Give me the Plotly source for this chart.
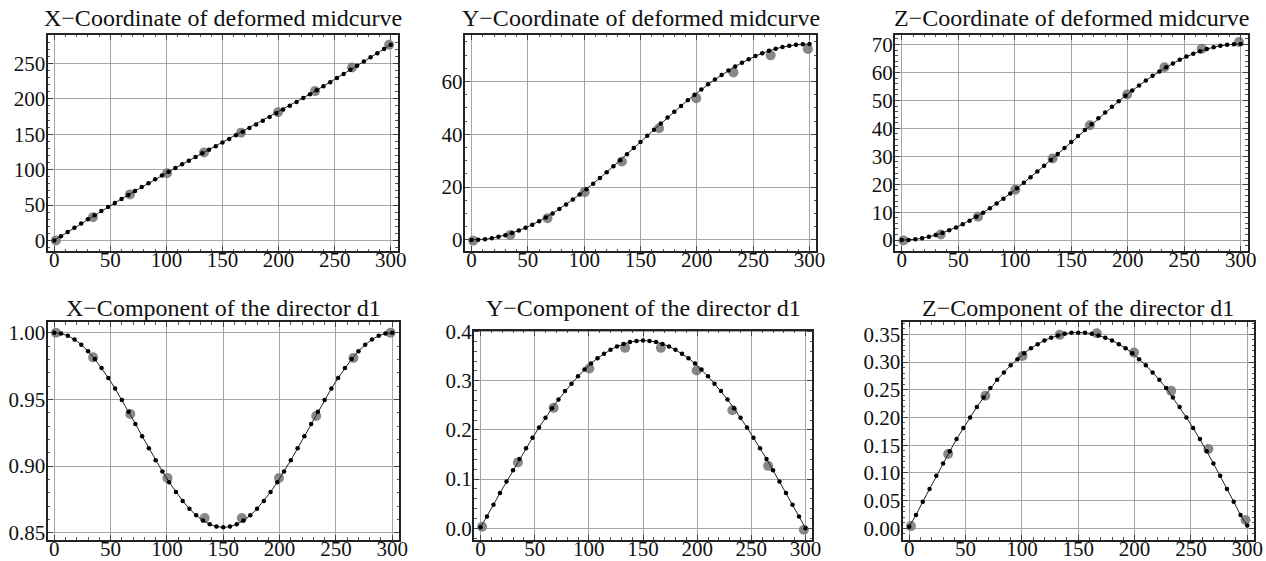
import plotly.graph_objects as go

# ---------------- data ----------------
s = [0, 6, 12, 18, 24, 30, 36, 42, 48, 54, 60, 66, 72, 78, 84, 90, 96, 102, 108, 114,
     120, 126, 132, 138, 144, 150, 156, 162, 168, 174, 180, 186, 192, 198, 204, 210,
     216, 222, 228, 234, 240, 246, 252, 258, 264, 270, 276, 282, 288, 294, 300]

x_coord = [0.00, 5.97, 11.93, 17.88, 23.81, 29.72, 35.59, 41.42, 47.21, 52.95, 58.65,
           64.29, 69.88, 75.41, 80.89, 86.31, 91.68, 97.00, 102.27, 107.50, 112.70,
           117.86, 122.99, 128.11, 133.21, 138.30, 143.39, 148.49, 153.61, 158.74,
           163.90, 169.10, 174.33, 179.60, 184.92, 190.29, 195.71, 201.19, 206.72,
           212.31, 217.95, 223.65, 229.39, 235.18, 241.01, 246.88, 252.79, 258.72,
           264.67, 270.63, 276.60]

y_coord = [0.00, 0.07, 0.29, 0.66, 1.16, 1.81, 2.60, 3.53, 4.59, 5.78, 7.09, 8.51,
           10.05, 11.71, 13.45, 15.29, 17.22, 19.23, 21.30, 23.44, 25.64, 27.87,
           30.15, 32.45, 34.77, 37.10, 39.43, 41.75, 44.05, 46.33, 48.56, 50.76,
           52.90, 54.97, 56.98, 58.91, 60.75, 62.49, 64.15, 65.69, 67.11, 68.42,
           69.61, 70.67, 71.60, 72.39, 73.04, 73.54, 73.91, 74.13, 74.20]

z_coord = [0.00, 0.07, 0.29, 0.65, 1.16, 1.80, 2.58, 3.49, 4.53, 5.69, 6.97, 8.35,
           9.83, 11.41, 13.08, 14.83, 16.65, 18.54, 20.49, 22.48, 24.52, 26.60,
           28.70, 30.82, 32.96, 35.11, 37.25, 39.39, 41.51, 43.62, 45.69, 47.73,
           49.72, 51.67, 53.56, 55.38, 57.13, 58.80, 60.38, 61.86, 63.25, 64.52,
           65.68, 66.72, 67.63, 68.41, 69.05, 69.56, 69.92, 70.14, 70.21]

d1_x = [1.0000, 0.9994, 0.9977, 0.9949, 0.9910, 0.9861, 0.9802, 0.9735, 0.9661, 0.9581,
        0.9496, 0.9407, 0.9316, 0.9224, 0.9133, 0.9044, 0.8959, 0.8879, 0.8805, 0.8738,
        0.8679, 0.8630, 0.8591, 0.8563, 0.8546, 0.8540, 0.8546, 0.8563, 0.8591, 0.8630,
        0.8679, 0.8738, 0.8805, 0.8879, 0.8959, 0.9044, 0.9133, 0.9224, 0.9316, 0.9407,
        0.9496, 0.9581, 0.9661, 0.9735, 0.9802, 0.9861, 0.9910, 0.9949, 0.9977, 0.9994,
        1.0000]

d1_y = [0.002, 0.024, 0.048, 0.072, 0.095, 0.118, 0.141, 0.163, 0.184, 0.205, 0.225,
        0.244, 0.262, 0.279, 0.294, 0.309, 0.323, 0.335, 0.346, 0.355, 0.363, 0.370,
        0.375, 0.379, 0.381, 0.382, 0.381, 0.379, 0.375, 0.370, 0.363, 0.355, 0.346,
        0.335, 0.323, 0.309, 0.294, 0.279, 0.262, 0.244, 0.225, 0.205, 0.184, 0.163,
        0.141, 0.118, 0.095, 0.072, 0.048, 0.024, 0.000]

d1_z = [0.003, 0.024, 0.048, 0.071, 0.095, 0.117, 0.139, 0.161, 0.181, 0.200, 0.219,
        0.236, 0.253, 0.268, 0.281, 0.294, 0.305, 0.316, 0.325, 0.332, 0.339, 0.344,
        0.348, 0.351, 0.353, 0.353, 0.353, 0.351, 0.348, 0.344, 0.339, 0.332, 0.325,
        0.316, 0.305, 0.294, 0.281, 0.268, 0.253, 0.236, 0.219, 0.200, 0.181, 0.161,
        0.139, 0.117, 0.095, 0.071, 0.048, 0.024, 0.005]

g_s = [1.5, 34.5, 67.5, 100.5, 133.5, 166.5, 199.5, 232.5, 265.5, 298.5]
g_x_coord = [0.0, 32.7, 65.0, 94.9, 124.3, 152.3, 181.2, 211.0, 244.3, 276.6]
g_y_coord = [-0.3, 1.9, 8.2, 18.1, 29.7, 42.3, 53.7, 63.4, 69.9, 72.3]
g_z_coord = [-0.1, 2.0, 8.4, 18.0, 29.2, 41.1, 52.1, 61.9, 68.5, 70.9]
g_d1_x = [1.000, 0.9815, 0.939, 0.891, 0.861, 0.861, 0.891, 0.9375, 0.981, 1.000]
g_d1_y = [0.003, 0.134, 0.245, 0.325, 0.367, 0.367, 0.321, 0.240, 0.127, -0.003]
g_d1_z = [0.004, 0.134, 0.239, 0.311, 0.349, 0.352, 0.317, 0.248, 0.143, 0.015]

titles = ["X\u2212Coordinate of deformed midcurve",
          "Y\u2212Coordinate of deformed midcurve",
          "Z\u2212Coordinate of deformed midcurve",
          "X\u2212Component of the director d1",
          "Y\u2212Component of the director d1",
          "Z\u2212Component of the director d1"]

# ---------------- layout geometry (screen pixels) ----------------
W, H = 1266, 561
frames = [  # left, right, top, bottom
    (47.5, 397.5, 34.5, 251.0),
    (464.7, 816.3, 34.5, 251.0),
    (895.0, 1247.5, 34.5, 251.0),
    (47.5, 399.0, 322.0, 539.5),
    (474.0, 812.0, 330.5, 539.5),
    (902.5, 1254.0, 322.0, 539.5),
]
yranges = [(-15.0, 291.0), (-4.2, 77.8), (-3.9, 73.6),
           (0.8449, 1.008), (-0.0228, 0.4023), (-0.0202, 0.3722)]
ydtick = [50, 20, 10, 0.05, 0.1, 0.05]
yminor = [10, 5, 2, 0.01, 0.02, 0.01]
yfmt = [None, None, None, ".2f", ".1f", ".2f"]
title_base = [27, 27, 27, 317, 317, 317]

series = [(x_coord, g_x_coord), (y_coord, g_y_coord), (z_coord, g_z_coord),
          (d1_x, g_d1_x), (d1_y, g_d1_y), (d1_z, g_d1_z)]

FONT = "Liberation Serif, Times New Roman, serif"
fig = go.Figure()
annotations = []
layout_axes = {}

for i, ((line_vals, gray_vals), fr) in enumerate(zip(series, frames)):
    n = i + 1
    xa = "x" if n == 1 else f"x{n}"
    ya = "y" if n == 1 else f"y{n}"
    fig.add_trace(go.Scatter(x=g_s, y=gray_vals, mode="markers", xaxis=xa, yaxis=ya,
                             marker=dict(size=10, color="rgba(115,115,115,0.85)"),
                             showlegend=False, hoverinfo="skip"))
    fig.add_trace(go.Scatter(x=s, y=line_vals, mode="lines+markers", xaxis=xa, yaxis=ya,
                             line=dict(color="#222", width=1),
                             marker=dict(size=4.5, color="black"),
                             showlegend=False))
    l, r, t, b = fr
    xkey = "xaxis" if n == 1 else f"xaxis{n}"
    ykey = "yaxis" if n == 1 else f"yaxis{n}"
    common = dict(showline=True, linecolor="#222", linewidth=2, mirror="ticks",
                  ticks="inside", ticklen=5, tickcolor="#444", tickwidth=1,
                  showgrid=True, gridcolor="#a6a6a6", gridwidth=1, zeroline=False,
                  automargin=False,
                  tickfont=dict(family=FONT, size=21, color="#111"))
    layout_axes[xkey] = dict(common, domain=[l / W, r / W], range=[-6, 306],
                             anchor=ya, tick0=0, dtick=50, ticklabelstandoff=-11,
                             minor=dict(dtick=10, ticks="inside", ticklen=2.5,
                                        tickcolor="#555", showgrid=False))
    yfr = dict(common, domain=[1 - b / H, 1 - t / H], range=list(yranges[i]),
               anchor=xa, tick0=0, dtick=ydtick[i], ticklabelstandoff=-4,
               minor=dict(dtick=yminor[i], ticks="inside", ticklen=2.5,
                          tickcolor="#555", showgrid=False))
    if yfmt[i]:
        yfr["tickformat"] = yfmt[i]
    layout_axes[ykey] = yfr
    annotations.append(dict(text=titles[i], x=(l + r) / 2 / W,
                            y=1 - title_base[i] / H,
                            xref="paper", yref="paper", xanchor="center", yanchor="bottom",
                            yshift=-6, showarrow=False,
                            font=dict(family=FONT, size=24, color="#111")))

fig.update_layout(width=W, height=H, margin=dict(l=0, r=0, t=0, b=0),
                  paper_bgcolor="white", plot_bgcolor="white",
                  annotations=annotations, **layout_axes)
fig.write_html("out.html", config={"displayModeBar": False},
               post_script="document.body.style.margin='0px';document.body.style.overflow='hidden';")
